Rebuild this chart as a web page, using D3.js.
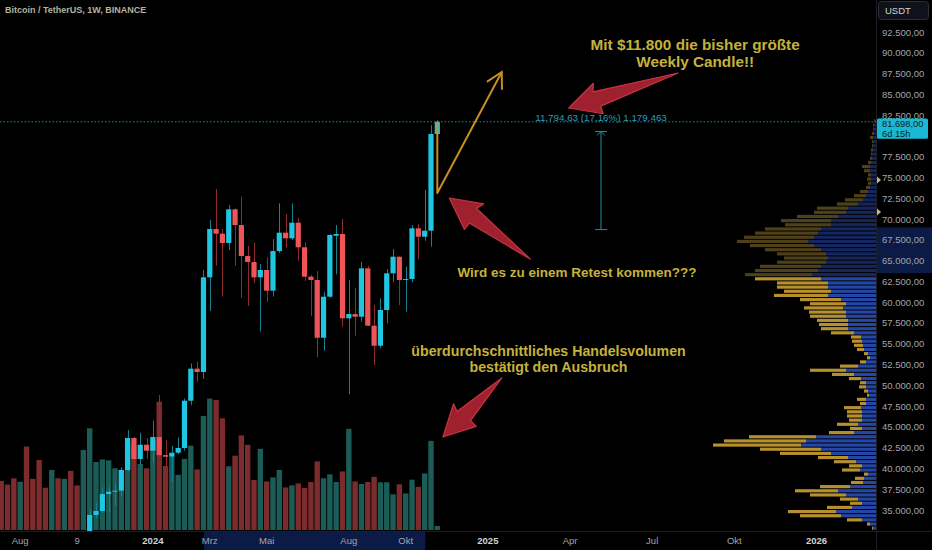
<!DOCTYPE html>
<html>
<head>
<meta charset="utf-8">
<script src="https://cdn.jsdelivr.net/npm/d3@7"></script>
<style>
html, body { margin: 0; padding: 0; background: #000; overflow: hidden; }
svg { display: block; font-family: "Liberation Sans", Arial, sans-serif; }
</style>
</head>
<body>
<div id="chart"></div>
<script>
// BTCUSDT weekly candles, week of 17 Jul 2023 .. week of 11 Nov 2024
var opens  = [30230,29860,29230,29040,29410,26090,26000,25830,25800,26530,26250,27970,27920,27150,
              29990,34400,34880,36920,37200,37320,39810,43660,41130,42850,42130,43780,41600,41410,41890,42460,
              48145,52000,51600,62990,68800,68240,67120,71170,69280,65550,64830,62990,63870,61380,66150,68360,
              67680,69560,66600,63070,62670,55720,60660,67990,68200,58060,58575,58250,64070,57170,54760,59060,
              63470,65470,62670,62790,68885,67875,68600,80230];
var highs  = [30340,30050,29530,30240,29690,28140,28190,26130,27490,27480,28050,28590,28000,30400,
              35100,35840,37760,37800,38210,40130,44620,43800,44300,43660,45740,48830,43420,42700,43740,48430,
              52640,52840,63870,69880,73610,68800,71690,71300,72690,66760,67150,64590,65400,67600,71890,70600,
              71890,70160,67200,63270,63750,61260,68200,69280,70000,62670,61670,64870,64350,59660,60460,63990,
              66390,65500,64270,69280,69400,73490,81310,81900];
var lows   = [29500,28860,28580,28750,25170,25800,25330,24900,24900,26390,25990,27160,26540,26970,
              29700,34030,34630,34670,35510,36600,39600,40170,40410,41130,40690,41250,40250,38400,41730,42130,
              47630,50430,50760,58940,64390,60660,66270,64390,60540,59540,62340,56450,60050,60660,65950,66600,
              67480,64990,62550,58340,53370,54160,60540,63350,57050,48920,55970,57650,57150,52440,54450,57460,
              62460,59660,58860,62390,65160,67390,66670,80200];
var closes = [29860,29230,29040,29410,26090,26000,25830,25800,26530,26250,27970,27920,27150,29990,
              34400,34880,36920,37200,37320,39810,43660,41130,42850,42130,43780,41600,41410,41890,42460,48145,
              52000,51600,62990,68800,68240,67120,71170,69280,65550,64830,62990,63870,61380,66150,68360,67680,
              69560,66600,63070,62670,55720,60660,68080,68200,58060,58575,58250,64070,57170,54760,59060,63470,
              65470,62670,62790,68885,67875,68600,80230,81698];
// weekly volume (thousand BTC)
var volumes = [172,159,181,169,292,179,245,148,210,181,179,207,156,280,356,238,247,244,216,210,
               308,298,231,216,315,449,224,256,193,249,295,212,399,460,455,391,223,260,331,298,
               175,284,170,184,210,149,156,163,147,168,240,181,195,168,205,354,170,161,168,186,
               167,167,125,160,128,176,151,198,312,14];

// volume profile rows: row k covers price 32.500 + 500*k .. +500
var vpStart = 32500, vpStep = 500;
var vpUp   = [3,6,14,35,40,24,14,18,30,38,26,13,12,8,16,14,20,28,45,55,75,70,60,22,14,18,14,14,14,15,
              10,10,7,8,10,10,15,22,30,18,10,6,8,12,13,14,15,22,28,28,28,30,30,33,30,35,48,45,48,48,
              55,64,58,55,50,48,50,55,62,68,62,58,55,45,45,38,30,28,18,13,10,8,6,5,5,5,6,6,5,4,
              4,3,3,3,3,2,2,2,1];
var vpDown = [1,3,15,41,48,25,12,18,36,43,30,12,9,4,18,13,22,30,51,61,88,82,67,25,12,21,13,15,15,17,
              6,9,2,4,7,6,12,22,36,18,6,3,4,7,9,10,10,23,27,29,31,36,37,39,36,41,54,47,51,51,
              66,67,63,61,49,44,49,56,64,71,70,63,56,46,50,41,32,31,21,18,12,8,4,3,4,3,6,8,3,2,
              1,2,1,1,3,2,1,1,1];
var vaLow = 32500, vaHigh = 63000;

// axes
var priceTicks = [92500,90000,87500,85000,82500,80000,77500,75000,72500,70000,67500,65000,62500,
                  60000,57500,55000,52500,50000,47500,45000,42500,40000,37500,35000];
var timeTickIndex  = [3,12,24,33,42,55,64,77,90,103,116,129];
var timeTickLabels = ['Aug','9','2024','Mrz','Mai','Aug','Okt','2025','Apr','Jul','Okt','2026'];
var lastPrice = 81698, lastCountdown = '6d 15h';
var priceRangeSel = [63500, 69000];
var timeRangeSel = [32.1, 67.1];
var alertPrices = [74700, 70850];

// drawings (bar index, price)
var orangePath = [[69, 81698], [69, 73130], [79.2, 87690]];
var redArrows = [
  {from: [107.1, 87570], to: [89.8, 83360]},
  {from: [83.7, 65190], to: [70.9, 72530]},
  {from: [79.2, 50880], to: [69.9, 43780]}
];
var measure = {i: 94.9, lo: 68733, hi: 80527, text: '11.794,63 (17,16%) 1.179.463'};
var notes = [
  {i: 109.8, p: 90940, lines: ['Mit $11.800 die bisher größte', 'Weekly Candle!!']},
  {i: 91.1, p: 63630, lines: ['Wird es zu einem Retest kommen???']},
  {i: 86.6, p: 54130, lines: ['überdurchschnittliches Handelsvolumen', 'bestätigt den Ausbruch']}
];
var noteSize = [15.3, 13.5, 14.2];

var W = 932, H = 550, plotW = 876, plotH = 531;

var de = d3.formatLocale({decimal: ',', thousands: '.', grouping: [3], currency: ['', '']});
var fmtPrice = de.format(',.2f');

var x = d3.scaleLinear().domain([0, 69]).range([1.2, 437.3]);
var y = d3.scaleLinear().domain([35000, 92500]).range([510, 32]);
var yVol = d3.scaleLinear().domain([0, 350]).range([530, 430]);
var vpW = d3.scaleLinear().domain([0, 163]).range([0, 163]);

var svg = d3.select('#chart').append('svg').attr('width', W).attr('height', H);
svg.append('rect').attr('width', W).attr('height', H).attr('fill', '#000');

svg.append('defs').append('clipPath').attr('id', 'plotclip')
  .append('rect').attr('width', plotW).attr('height', plotH);

var plot = svg.append('g').attr('clip-path', 'url(#plotclip)');

var bars = d3.range(opens.length).map(function(i) {
  return {i: i, o: opens[i], h: highs[i], l: lows[i], c: closes[i], v: volumes[i], up: closes[i] >= opens[i]};
});

// volume
plot.append('g').selectAll('rect').data(bars).enter().append('rect')
  .attr('x', function(d) { return x(d.i) - 2.7; })
  .attr('width', 5.4)
  .attr('y', function(d) { return yVol(d.v); })
  .attr('height', function(d) { return yVol(0) - yVol(d.v); })
  .attr('fill', function(d) { return d.up ? '#1b5c56' : '#7c2c2d'; });

// candles
var cg = plot.append('g').selectAll('g').data(bars).enter().append('g');
cg.append('line')
  .attr('x1', function(d) { return Math.round(x(d.i)) + 0.5; })
  .attr('x2', function(d) { return Math.round(x(d.i)) + 0.5; })
  .attr('y1', function(d) { return y(d.h); })
  .attr('y2', function(d) { return y(d.l); })
  .attr('stroke', function(d) { return d.up ? '#15808f' : '#8e2b2f'; })
  .attr('stroke-width', 1);
cg.append('rect')
  .attr('x', function(d) { return x(d.i) - 2.6; })
  .attr('width', 5.2)
  .attr('y', function(d) { return y(Math.max(d.o, d.c)); })
  .attr('height', function(d) { return Math.max(1, Math.abs(y(d.o) - y(d.c))); })
  .attr('fill', function(d) { return d.up ? '#1fc6e2' : '#ef5458'; });

// volume profile
var vpRows = vpUp.map(function(u, k) {
  return {lo: vpStart + k * vpStep, up: u, down: vpDown[k]};
});
var vp = plot.append('g');
vpRows.forEach(function(r) {
  var inVA = r.lo >= vaLow && r.lo < vaHigh;
  var top = y(r.lo + vpStep), h = y(r.lo) - y(r.lo + vpStep) - 1;
  var wu = vpW(r.up), wd = vpW(r.down);
  vp.append('rect').attr('x', plotW - wu - wd).attr('y', top).attr('width', wd).attr('height', h)
    .attr('fill', inVA ? '#b68f2e' : '#4e4019');
  vp.append('rect').attr('x', plotW - wu).attr('y', top).attr('width', wu).attr('height', h)
    .attr('fill', inVA ? '#2447a6' : '#14265d');
});

// last price line
plot.append('line').attr('x1', 0).attr('x2', plotW)
  .attr('y1', y(lastPrice)).attr('y2', y(lastPrice))
  .attr('stroke', '#1f8fa3').attr('stroke-width', 1).attr('stroke-dasharray', '1.5,2');

// measure tool
var mx = x(measure.i);
var mg = plot.append('g').attr('stroke', '#1c8ea4').attr('stroke-width', 1).attr('fill', 'none');
mg.append('line').attr('x1', mx).attr('x2', mx).attr('y1', y(measure.hi)).attr('y2', y(measure.lo));
mg.append('line').attr('x1', mx - 6).attr('x2', mx + 6).attr('y1', y(measure.hi)).attr('y2', y(measure.hi));
mg.append('line').attr('x1', mx - 6).attr('x2', mx + 6).attr('y1', y(measure.lo)).attr('y2', y(measure.lo));
mg.append('path').attr('d', 'M' + (mx - 4) + ',' + (y(measure.hi) + 4) + 'L' + mx + ',' + y(measure.hi) + 'L' + (mx + 4) + ',' + (y(measure.hi) + 4));
plot.append('text').attr('x', mx).attr('y', y(measure.hi) - 11)
  .attr('text-anchor', 'middle').attr('font-size', 9.8).attr('fill', '#2d9bb2')
  .text(measure.text);

// orange arrow line
var op = orangePath.map(function(p) { return [x(p[0]), y(p[1])]; });
plot.append('path').attr('d', d3.line()(op))
  .attr('fill', 'none').attr('stroke', '#c98d22').attr('stroke-width', 2).attr('stroke-linejoin', 'round');
(function() {
  var a = op[op.length - 2], b = op[op.length - 1];
  var ang = Math.atan2(b[1] - a[1], b[0] - a[0]);
  var L = 17, s = 0.5;
  var p1 = [b[0] - L * Math.cos(ang - s), b[1] - L * Math.sin(ang - s)];
  var p2 = [b[0] - L * Math.cos(ang + s), b[1] - L * Math.sin(ang + s)];
  plot.append('path').attr('d', d3.line()([p1, b, p2]))
    .attr('fill', 'none').attr('stroke', '#c98d22').attr('stroke-width', 2).attr('stroke-linecap', 'round');
})();

// red arrows
redArrows.forEach(function(a) {
  var t = [x(a.from[0]), y(a.from[1])], h = [x(a.to[0]), y(a.to[1])];
  var dx = h[0] - t[0], dy = h[1] - t[1], len = Math.sqrt(dx * dx + dy * dy);
  var ux = dx / len, uy = dy / len, nx = -uy, ny = ux;
  function pt(back, side) { return [h[0] - ux * back + nx * side, h[1] - uy * back + ny * side]; }
  var poly = [h, pt(31, 16), pt(28, 8), t, pt(31, -8), pt(31, -16)];
  plot.append('path').attr('d', d3.line()(poly) + 'Z')
    .attr('fill', '#9f2130').attr('stroke', '#c93442').attr('stroke-width', 1.2).attr('stroke-linejoin', 'round');
});

// text notes
notes.forEach(function(n, k) {
  var fs = noteSize[k];
  var t = plot.append('text').attr('text-anchor', 'middle')
    .attr('font-size', fs).attr('font-weight', 'bold').attr('fill', '#c4b23a');
  n.lines.forEach(function(line, j) {
    t.append('tspan').attr('x', x(n.i)).attr('y', y(n.p) + 5 + j * (fs + 1.5)).text(line);
  });
});

// title
svg.append('text').attr('x', 5).attr('y', 13).attr('font-size', 9).attr('font-weight', 'bold')
  .attr('fill', '#b4b49a').text('Bitcoin / TetherUS, 1W, BINANCE');

// price axis
var ly = y(lastPrice);
var axisG = svg.append('g');
axisG.append('rect').attr('x', plotW + 1).attr('y', y(priceRangeSel[1]))
  .attr('width', W - plotW - 1).attr('height', y(priceRangeSel[0]) - y(priceRangeSel[1]))
  .attr('fill', '#0c1b45');
// labels hidden under the last price tag are skipped
axisG.selectAll('text.pt').data(priceTicks.filter(function(d) { return Math.abs(y(d) - (ly + 6)) > 11; }))
  .enter().append('text')
  .attr('class', 'pt').attr('x', 882).attr('y', function(d) { return y(d) + 3.5; })
  .attr('font-size', 9.5).attr('fill', '#a2a5ae').text(function(d) { return fmtPrice(d); });

axisG.selectAll('path.al').data(alertPrices).enter().append('path').attr('class', 'al')
  .attr('d', function(d) { var yy = y(d); return 'M877,' + (yy - 3.5) + 'L881,' + yy + 'L877,' + (yy + 3.5) + 'Z'; })
  .attr('fill', '#c9bb84');

// last price label
axisG.append('rect').attr('x', 877).attr('y', ly - 3.2).attr('width', 51).attr('height', 20.2)
  .attr('rx', 1.5).attr('fill', '#1ab9d3');
axisG.append('text').attr('x', 882).attr('y', ly + 5.3).attr('font-size', 9.3).attr('fill', '#0c1d24').text(fmtPrice(lastPrice));
axisG.append('text').attr('x', 882).attr('y', ly + 15).attr('font-size', 9.3).attr('fill', '#0c1d24').text(lastCountdown);

// currency box
axisG.append('rect').attr('x', 878.5).attr('y', 1.5).attr('width', 50).attr('height', 18)
  .attr('rx', 3).attr('fill', '#0f121a').attr('stroke', '#2a2e39');
axisG.append('text').attr('x', 885).attr('y', 14).attr('font-size', 9.5).attr('fill', '#d1d4dc').text('USDT');

// separators
svg.append('line').attr('x1', plotW + 0.5).attr('x2', plotW + 0.5).attr('y1', 0).attr('y2', H)
  .attr('stroke', '#1c1f27');
svg.append('line').attr('x1', 0).attr('x2', W).attr('y1', plotH + 0.5).attr('y2', plotH + 0.5)
  .attr('stroke', '#1c1f27');

// time axis
svg.append('rect').attr('x', x(timeRangeSel[0])).attr('y', plotH + 1)
  .attr('width', x(timeRangeSel[1]) - x(timeRangeSel[0])).attr('height', H - plotH - 1)
  .attr('fill', '#0c1b45');
svg.selectAll('text.tt').data(timeTickIndex).enter().append('text').attr('class', 'tt')
  .attr('x', function(d) { return x(d); }).attr('y', 544)
  .attr('text-anchor', 'middle').attr('font-size', 9.5)
  .attr('font-weight', function(d, j) { return /^\d{4}$/.test(timeTickLabels[j]) ? 'bold' : 'normal'; })
  .attr('fill', function(d, j) { return /^\d{4}$/.test(timeTickLabels[j]) ? '#cfd2da' : '#a2a5ae'; })
  .text(function(d, j) { return timeTickLabels[j]; });
</script>
</body>
</html>
